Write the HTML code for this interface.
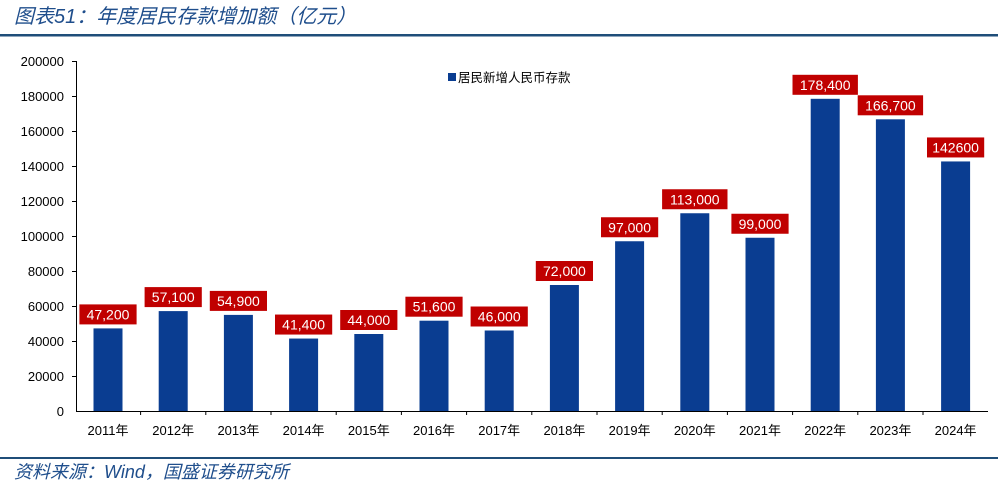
<!DOCTYPE html><html><head><meta charset="utf-8"><style>
body{margin:0;width:998px;height:491px;background:#fff;overflow:hidden;font-family:"Liberation Sans","Noto Sans CJK SC",sans-serif}
</style></head><body>
<svg width="998" height="491" xmlns="http://www.w3.org/2000/svg" font-family="Liberation Sans, Noto Sans CJK SC, sans-serif">
<text x="14" y="23" font-size="20" fill="#1f4e8c" font-style="italic">图表51：年度居民存款增加额（亿元）</text>
<rect x="0" y="34" width="998" height="2.5" fill="#1f4e79"/>
<rect x="0" y="457" width="998" height="2" fill="#1f4e79"/>
<text x="14" y="478" font-size="18" fill="#1f4e8c" font-style="italic">资料来源：Wind，国盛证券研究所</text>
<g font-size="13" fill="#000" text-anchor="end">
<text x="64" y="416">0</text><text x="64" y="381">20000</text><text x="64" y="346">40000</text><text x="64" y="311">60000</text><text x="64" y="276">80000</text><text x="64" y="241">100000</text><text x="64" y="206">120000</text><text x="64" y="171">140000</text><text x="64" y="136">160000</text><text x="64" y="101">180000</text><text x="64" y="66">200000</text>
</g>
<g stroke="#000" stroke-width="1">
<line x1="76.5" y1="61" x2="76.5" y2="411"/>
<line x1="76" y1="411.5" x2="988" y2="411.5"/>
<line x1="72" y1="61.5" x2="76" y2="61.5"/><line x1="72" y1="96.5" x2="76" y2="96.5"/><line x1="72" y1="131.5" x2="76" y2="131.5"/><line x1="72" y1="166.5" x2="76" y2="166.5"/><line x1="72" y1="201.5" x2="76" y2="201.5"/><line x1="72" y1="236.5" x2="76" y2="236.5"/><line x1="72" y1="271.5" x2="76" y2="271.5"/><line x1="72" y1="306.5" x2="76" y2="306.5"/><line x1="72" y1="341.5" x2="76" y2="341.5"/><line x1="72" y1="376.5" x2="76" y2="376.5"/>
<line x1="140.6" y1="411" x2="140.6" y2="415"/><line x1="205.8" y1="411" x2="205.8" y2="415"/><line x1="271" y1="411" x2="271" y2="415"/><line x1="336.2" y1="411" x2="336.2" y2="415"/><line x1="401.4" y1="411" x2="401.4" y2="415"/><line x1="466.6" y1="411" x2="466.6" y2="415"/><line x1="531.8" y1="411" x2="531.8" y2="415"/><line x1="597" y1="411" x2="597" y2="415"/><line x1="662.2" y1="411" x2="662.2" y2="415"/><line x1="727.4" y1="411" x2="727.4" y2="415"/><line x1="792.6" y1="411" x2="792.6" y2="415"/><line x1="857.8" y1="411" x2="857.8" y2="415"/><line x1="923" y1="411" x2="923" y2="415"/>
</g>
<rect x="448" y="73" width="8" height="8" fill="#0a3d91"/>
<text x="458" y="82" font-size="12.5">居民新增人民币存款</text>
<g fill="#0a3d91">
<rect x="93.5" y="328.4" width="29" height="82.6"/>
<rect x="158.7" y="311.1" width="29" height="99.9"/>
<rect x="223.9" y="314.9" width="29" height="96.1"/>
<rect x="289.1" y="338.55" width="29" height="72.45"/>
<rect x="354.3" y="334" width="29" height="77"/>
<rect x="419.5" y="320.7" width="29" height="90.3"/>
<rect x="484.7" y="330.5" width="29" height="80.5"/>
<rect x="549.9" y="285" width="29" height="126"/>
<rect x="615.1" y="241.25" width="29" height="169.75"/>
<rect x="680.3" y="213.25" width="29" height="197.75"/>
<rect x="745.5" y="237.75" width="29" height="173.25"/>
<rect x="810.7" y="98.8" width="29" height="312.2"/>
<rect x="875.9" y="119.3" width="29" height="291.7"/>
<rect x="941.1" y="161.45" width="29" height="249.55"/>
</g>
<g fill="#c00000">
<rect x="79.4" y="304.4" width="57.2" height="20"/>
<rect x="144.6" y="287.1" width="57.2" height="20"/>
<rect x="209.8" y="290.9" width="57.2" height="20"/>
<rect x="275" y="314.55" width="57.2" height="20"/>
<rect x="340.2" y="310" width="57.2" height="20"/>
<rect x="405.4" y="296.7" width="57.2" height="20"/>
<rect x="470.6" y="306.5" width="57.2" height="20"/>
<rect x="535.8" y="261" width="57.2" height="20"/>
<rect x="601" y="217.25" width="57.2" height="20"/>
<rect x="662.1" y="189.25" width="65.4" height="20"/>
<rect x="731.4" y="213.75" width="57.2" height="20"/>
<rect x="792.5" y="74.8" width="65.4" height="20"/>
<rect x="857.7" y="95.3" width="65.4" height="20"/>
<rect x="927" y="137.45" width="57.2" height="20"/>
</g>
<g font-size="14" fill="#fff" text-anchor="middle">
<text x="108" y="319.4">47,200</text>
<text x="173.2" y="302.1">57,100</text>
<text x="238.4" y="305.9">54,900</text>
<text x="303.6" y="329.55">41,400</text>
<text x="368.8" y="325">44,000</text>
<text x="434" y="311.7">51,600</text>
<text x="499.2" y="321.5">46,000</text>
<text x="564.4" y="276">72,000</text>
<text x="629.6" y="232.25">97,000</text>
<text x="694.8" y="204.25">113,000</text>
<text x="760" y="228.75">99,000</text>
<text x="825.2" y="89.8">178,400</text>
<text x="890.4" y="110.3">166,700</text>
<text x="955.6" y="152.45">142600</text>
</g>
<g font-size="13" fill="#000" text-anchor="middle">
<text x="108" y="435">2011年</text><text x="173.2" y="435">2012年</text><text x="238.4" y="435">2013年</text><text x="303.6" y="435">2014年</text><text x="368.8" y="435">2015年</text><text x="434" y="435">2016年</text><text x="499.2" y="435">2017年</text><text x="564.4" y="435">2018年</text><text x="629.6" y="435">2019年</text><text x="694.8" y="435">2020年</text><text x="760" y="435">2021年</text><text x="825.2" y="435">2022年</text><text x="890.4" y="435">2023年</text><text x="955.6" y="435">2024年</text>
</g>
</svg>
</body></html>
